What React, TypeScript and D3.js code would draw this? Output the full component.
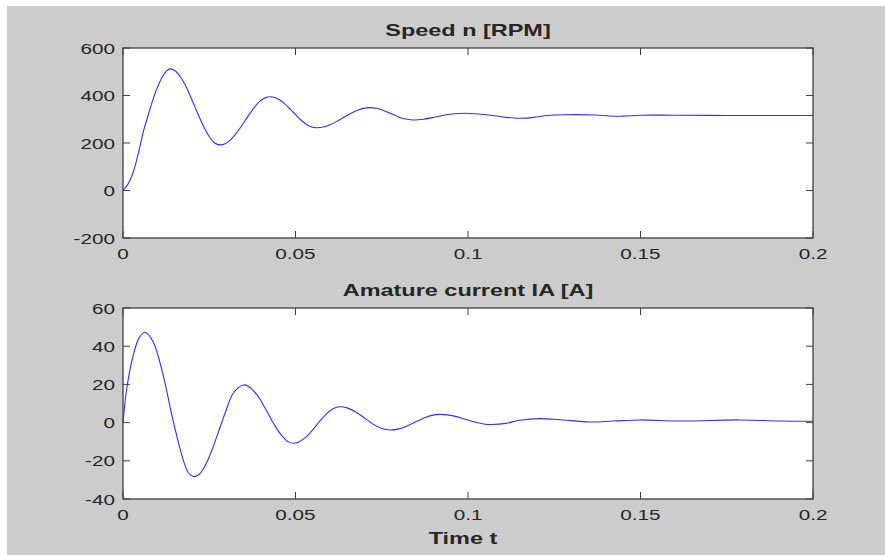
import React from 'react';
import * as d3 from 'd3';

// speed n [RPM]
const speedT = [0, 0.0015, 0.003, 0.0045, 0.0059, 0.0074, 0.0088, 0.0103, 0.0117, 0.0127, 0.0136, 0.015, 0.0165, 0.018, 0.0194, 0.0209, 0.0223, 0.0238, 0.0252, 0.0266, 0.0281, 0.0296, 0.031, 0.0325, 0.0339, 0.0354, 0.0368, 0.0383, 0.0397, 0.0412, 0.0426, 0.044, 0.0455, 0.047, 0.0485, 0.05, 0.0515, 0.053, 0.0545, 0.0561, 0.058, 0.06, 0.062, 0.064, 0.066, 0.068, 0.07, 0.0716, 0.0735, 0.0755, 0.0775, 0.0795, 0.0815, 0.0841, 0.087, 0.09, 0.093, 0.096, 0.099, 0.103, 0.107, 0.111, 0.115, 0.119, 0.123, 0.128, 0.137, 0.141, 0.145, 0.15, 0.16, 0.175, 0.19, 0.2];
const speedN = [0, 28, 79, 160, 248, 322, 388, 445, 486, 505, 512, 505, 481, 445, 401, 350, 303, 257, 223, 200, 192, 197, 211, 235, 262, 295, 325, 354, 376, 390, 395, 392, 381, 364, 342, 320, 298, 280, 268, 264, 267, 277, 291, 308, 324, 338, 347, 349, 346, 337, 325, 312, 302, 297, 300, 308, 317, 323, 325, 322, 316, 308, 304, 308, 316, 319, 318, 314, 313, 317, 317, 316, 316, 316];

// armature current IA [A]
const currT = [0, 0.0011, 0.003, 0.0047, 0.0064, 0.0088, 0.0117, 0.0146, 0.0175, 0.019, 0.0206, 0.022, 0.0233, 0.0248, 0.0262, 0.0277, 0.03, 0.032, 0.0349, 0.0363, 0.0388, 0.0413, 0.0436, 0.046, 0.048, 0.0494, 0.051, 0.0531, 0.055, 0.0571, 0.059, 0.061, 0.0629, 0.065, 0.0677, 0.07, 0.0725, 0.075, 0.0774, 0.08, 0.0822, 0.0846, 0.087, 0.0895, 0.0919, 0.0945, 0.097, 0.0995, 0.102, 0.1045, 0.107, 0.111, 0.115, 0.1209, 0.1267, 0.1354, 0.1421, 0.1499, 0.1614, 0.1788, 0.1904, 0.2];
const currIA = [0, 18, 35.4, 44.5, 47.3, 42.1, 24.3, 0.4, -19.8, -26.4, -28.3, -27.2, -24.2, -18.8, -12.3, -4.7, 7, 15.5, 19.7, 19.0, 14.6, 7.3, -0.3, -6.8, -10.1, -10.8, -10.1, -7.5, -3.8, 0.9, 4.6, 7.4, 8.3, 7.7, 5.3, 2.4, -0.8, -3.1, -3.9, -3.3, -1.9, 0.2, 2.2, 3.8, 4.3, 3.9, 3.0, 1.6, 0.3, -0.7, -1.0, -0.4, 1.2, 2.1, 1.5, 0.3, 0.8, 1.4, 0.8, 1.4, 0.8, 0.7];

const xTicks = [0, 0.05, 0.1, 0.15, 0.2];
const xTickLabels = ['0', '0.05', '0.1', '0.15', '0.2'];
const speedTicks = [-200, 0, 200, 400, 600];
const currTicks = [-40, -20, 0, 20, 40, 60];

const W = 885;
const H = 556;
const SX = 1.38; // the figure is stretched sideways
const AXIS = '#404040';
const TXT = '#262626';
const FONT = 'Liberation Sans, Arial, sans-serif';

const StretchText = ({ x, y, anchor, size, bold, children }) => (
  <text
    transform={`translate(${x},${y}) scale(${SX},1)`}
    textAnchor={anchor}
    fontSize={size}
    fontWeight={bold ? 'bold' : 'normal'}
    fontFamily={FONT}
    fill={TXT}
  >
    {children}
  </text>
);

const Panel = ({ top, bottom, domain, yTicks, ts, vs, title }) => {
  const x = d3.scaleLinear().domain([0, 0.2]).range([123, 813]);
  const y = d3.scaleLinear().domain(domain).range([bottom, top]);
  const line = d3.line()
    .x((d) => x(d[0]))
    .y((d) => y(d[1]))
    .curve(d3.curveCatmullRom.alpha(0.5));
  const pts = ts.map((t, i) => [t, vs[i]]);
  const tl = 7;

  return (
    <g>
      <rect x={123} y={top} width={690} height={bottom - top} fill="#ffffff" />
      <path d={line(pts)} fill="none" stroke="#3030ff" strokeWidth={1.1} />
      {xTicks.map((t, i) => (
        <g key={'x' + i}>
          <line x1={x(t)} x2={x(t)} y1={bottom} y2={bottom - tl} stroke={AXIS} />
          <line x1={x(t)} x2={x(t)} y1={top} y2={top + tl} stroke={AXIS} />
          <StretchText x={x(t)} y={bottom + 21} anchor="middle" size={15}>
            {xTickLabels[i]}
          </StretchText>
        </g>
      ))}
      {yTicks.map((v) => (
        <g key={'y' + v}>
          <line x1={123} x2={123 + tl} y1={y(v)} y2={y(v)} stroke={AXIS} />
          <line x1={813} x2={813 - tl} y1={y(v)} y2={y(v)} stroke={AXIS} />
          <StretchText x={115} y={y(v) + 5.5} anchor="end" size={15}>
            {v}
          </StretchText>
        </g>
      ))}
      <rect x={123} y={top} width={690} height={bottom - top} fill="none" stroke={AXIS} strokeWidth={1.3} />
      <StretchText x={468} y={top - 12} anchor="middle" size={17} bold>
        {title}
      </StretchText>
    </g>
  );
};

export default function App() {
  return (
    <svg
      width={W}
      height={H}
      style={{ position: 'absolute', left: 0, top: 0, display: 'block', background: '#ffffff' }}
    >
      <rect x={7} y={6} width={W - 7} height={H - 7} fill="#cccccc" />
      <Panel top={48} bottom={238} domain={[-200, 600]} yTicks={speedTicks} ts={speedT} vs={speedN} title="Speed n [RPM]" />
      <Panel top={308} bottom={499} domain={[-40, 60]} yTicks={currTicks} ts={currT} vs={currIA} title="Amature current IA [A]" />
      <StretchText x={463} y={544} anchor="middle" size={17} bold>
        Time t
      </StretchText>
    </svg>
  );
}
